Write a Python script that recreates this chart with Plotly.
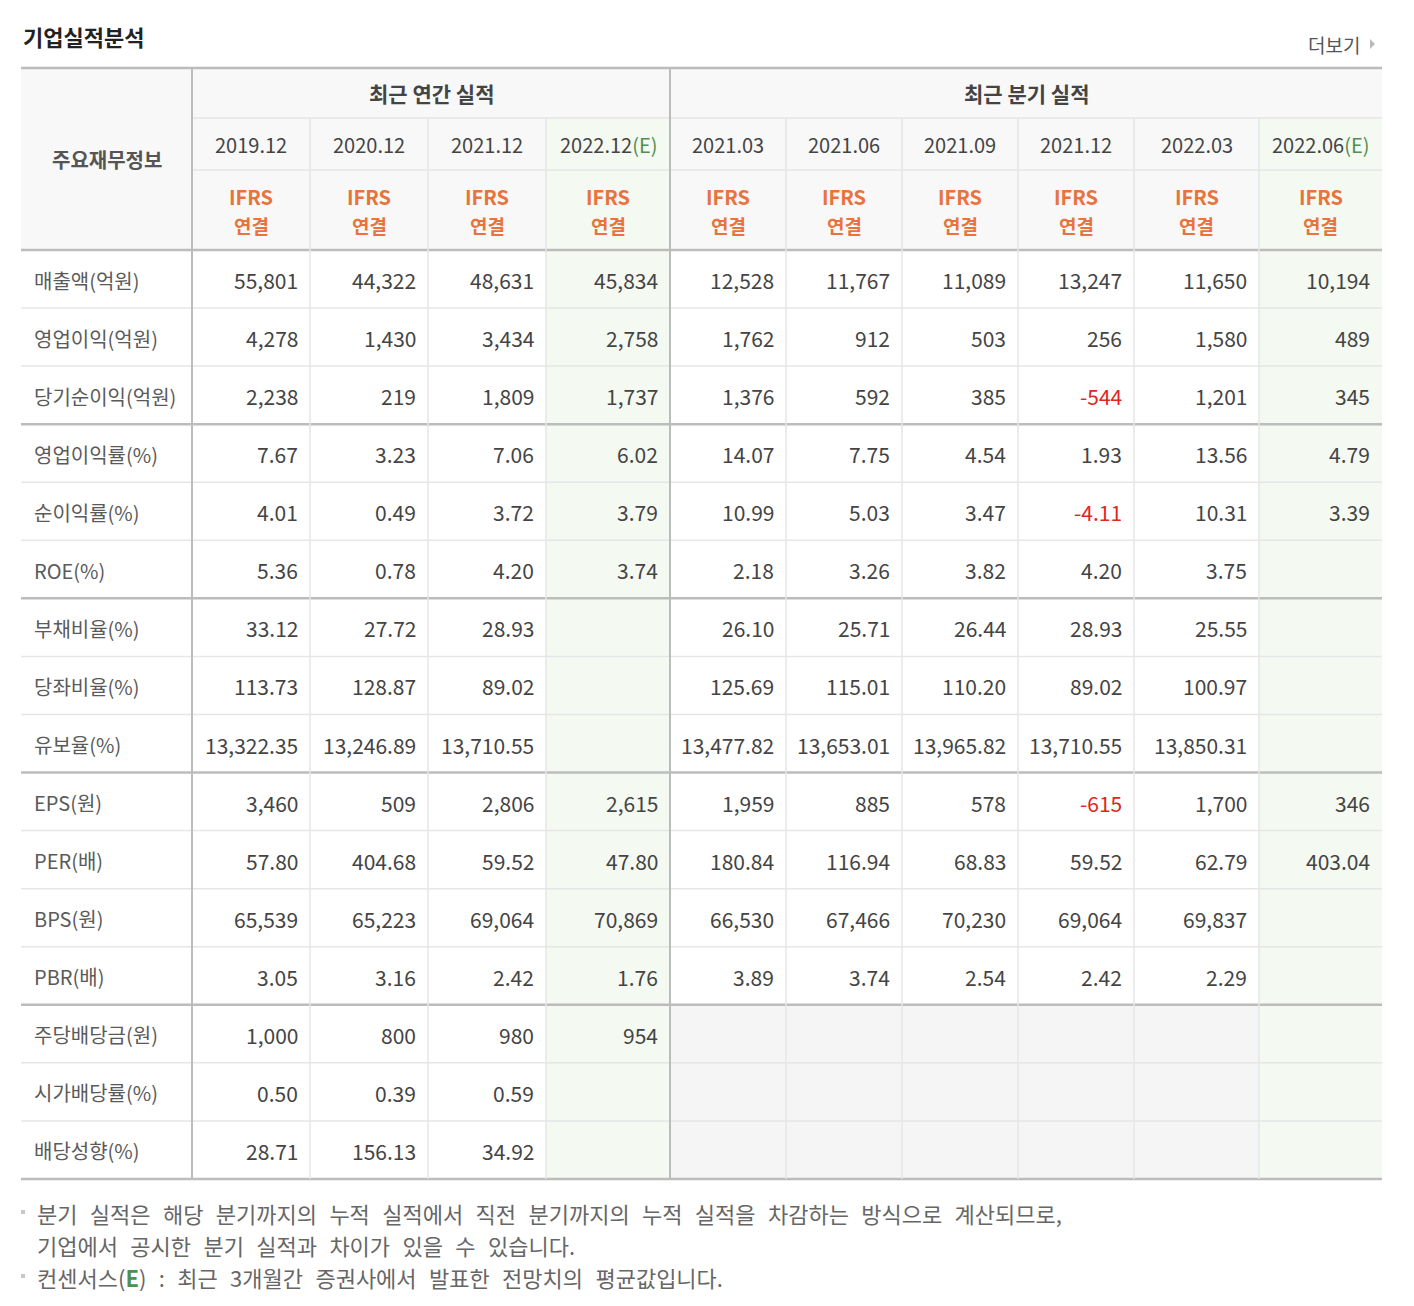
## 기업실적분석 table drawn with shapes and annotations on hidden axes

import plotly.graph_objects as go

# column headers
annual_periods = ["2019.12", "2020.12", "2021.12", "2022.12"]
quarter_periods = ["2021.03", "2021.06", "2021.09", "2021.12", "2022.03", "2022.06"]
periods = annual_periods + quarter_periods
is_estimate = [False, False, False, True, False, False, False, False, False, True]

# row labels and values (None = blank cell)
row_labels = [
    "매출액(억원)", "영업이익(억원)", "당기순이익(억원)",
    "영업이익률(%)", "순이익률(%)", "ROE(%)",
    "부채비율(%)", "당좌비율(%)", "유보율(%)",
    "EPS(원)", "PER(배)", "BPS(원)", "PBR(배)",
    "주당배당금(원)", "시가배당률(%)", "배당성향(%)",
]
row_decimals = [0, 0, 0, 2, 2, 2, 2, 2, 2, 0, 2, 0, 2, 0, 2, 2]

sales = [55801, 44322, 48631, 45834, 12528, 11767, 11089, 13247, 11650, 10194]
op_income = [4278, 1430, 3434, 2758, 1762, 912, 503, 256, 1580, 489]
net_income = [2238, 219, 1809, 1737, 1376, 592, 385, -544, 1201, 345]
op_margin = [7.67, 3.23, 7.06, 6.02, 14.07, 7.75, 4.54, 1.93, 13.56, 4.79]
net_margin = [4.01, 0.49, 3.72, 3.79, 10.99, 5.03, 3.47, -4.11, 10.31, 3.39]
roe = [5.36, 0.78, 4.20, 3.74, 2.18, 3.26, 3.82, 4.20, 3.75, None]
debt_ratio = [33.12, 27.72, 28.93, None, 26.10, 25.71, 26.44, 28.93, 25.55, None]
quick_ratio = [113.73, 128.87, 89.02, None, 125.69, 115.01, 110.20, 89.02, 100.97, None]
reserve_ratio = [13322.35, 13246.89, 13710.55, None, 13477.82, 13653.01, 13965.82, 13710.55, 13850.31, None]
eps = [3460, 509, 2806, 2615, 1959, 885, 578, -615, 1700, 346]
per = [57.80, 404.68, 59.52, 47.80, 180.84, 116.94, 68.83, 59.52, 62.79, 403.04]
bps = [65539, 65223, 69064, 70869, 66530, 67466, 70230, 69064, 69837, None]
pbr = [3.05, 3.16, 2.42, 1.76, 3.89, 3.74, 2.54, 2.42, 2.29, None]
dps = [1000, 800, 980, 954, None, None, None, None, None, None]
div_yield = [0.50, 0.39, 0.59, None, None, None, None, None, None, None]
payout = [28.71, 156.13, 34.92, None, None, None, None, None, None, None]

rows = [sales, op_income, net_income, op_margin, net_margin, roe,
        debt_ratio, quick_ratio, reserve_ratio, eps, per, bps, pbr,
        dps, div_yield, payout]

notes = [
    "분기 실적은 해당 분기까지의 누적 실적에서 직전 분기까지의 누적 실적을 차감하는 방식으로 계산되므로,",
    "기업에서 공시한 분기 실적과 차이가 있을 수 있습니다.",
    "컨센서스(E) : 최근 3개월간 증권사에서 발표한 전망치의 평균값입니다.",
]

# layout geometry (pixels, page coordinates)
W, H = 1414, 1306
PAGE_OFFSET = 8  # default body margin of the html page
LEFT, RIGHT = 21, 1382
col_edges = [192, 310, 428, 546, 670, 786, 902, 1018, 1134, 1259, 1382]
TOP = 68
HDR1, HDR2, HDR3 = 118, 170, 250
ROW_H = 58.06
group_breaks = [3, 6, 9, 13, 16]

FONT = "Noto Sans CJK KR"
TEXT = "#444444"
LABEL = "#5a5a5a"
ORANGE = "#e8733c"
GREEN = "#4f8f4f"
RED = "#e0261d"
BG_HEAD = "#f8f8f8"
BG_EST = "#f4f9f2"
BG_EMPTY = "#f5f5f5"
LINE_THIN = "#e6e6e6"
LINE_THICK = "#bcbcbc"
WIDE_SPACE = "\u2002\u200a"  # the notes are set with loose spacing

shapes = []
annotations = []


def rect(x0, y0, x1, y1, color):
    shapes.append(dict(type="rect", xref="x", yref="y", x0=x0, y0=y0, x1=x1, y1=y1,
                       fillcolor=color, line=dict(width=0), layer="below"))


def line(x0, y0, x1, y1, color, width):
    shapes.append(dict(type="line", xref="x", yref="y", x0=x0, y0=y0, x1=x1, y1=y1,
                       line=dict(color=color, width=width)))


def text(x, y, s, size, color, anchor="center", bold=False):
    if bold:
        s = "<b>" + s + "</b>"
    annotations.append(dict(x=x, y=y, xref="x", yref="y", text=s, showarrow=False,
                            xanchor=anchor, yanchor="middle",
                            font=dict(family=FONT, size=size, color=color)))


n_rows = len(rows)
bottom = HDR3 + ROW_H * n_rows

# backgrounds
rect(LEFT, TOP, RIGHT, HDR3, BG_HEAD)
for j, est in enumerate(is_estimate):
    x0, x1 = col_edges[j], col_edges[j + 1]
    if est:
        rect(x0, HDR1, x1, bottom, BG_EST)
for i, vals in enumerate(rows):
    y0 = HDR3 + ROW_H * i
    if i >= 13:
        for j in range(4, 9):
            rect(col_edges[j], y0, col_edges[j + 1], y0 + ROW_H, BG_EMPTY)

# header grid
line(LEFT, TOP, RIGHT, TOP, LINE_THICK, 2.5)
line(col_edges[0], HDR1, RIGHT, HDR1, LINE_THIN, 1.5)
line(col_edges[0], HDR2, RIGHT, HDR2, LINE_THIN, 1.5)
line(LEFT, HDR3, RIGHT, HDR3, LINE_THICK, 2.5)

# body grid
for i in range(1, n_rows + 1):
    y = HDR3 + ROW_H * i
    if i in group_breaks:
        line(LEFT, y, RIGHT, y, LINE_THICK, 2.5)
    else:
        line(LEFT, y, RIGHT, y, LINE_THIN, 1.5)

# vertical lines
for k, x in enumerate(col_edges[:-1]):
    if x in (192, 670):
        line(x, TOP, x, bottom, LINE_THICK, 2)
    else:
        line(x, HDR1, x, bottom, LINE_THIN, 1.5)

# header texts
text(21, 36, "기업실적분석", 22, "#222222", anchor="left", bold=True)
text(1362, 44, "더보기", 19, "#555555", anchor="right")
shapes.append(dict(type="path", xref="x", yref="y",
                   path="M 1370 39 L 1375 44 L 1370 49 Z",
                   fillcolor="#bbbbbb", line=dict(width=0)))
text((LEFT + col_edges[0]) / 2, (TOP + HDR3) / 2, "주요재무정보", 20, "#555555", bold=True)
text((col_edges[0] + col_edges[4]) / 2, (TOP + HDR1) / 2, "최근 연간 실적", 21, "#444444", bold=True)
text((col_edges[4] + col_edges[10]) / 2, (TOP + HDR1) / 2, "최근 분기 실적", 21, "#444444", bold=True)

for j, p in enumerate(periods):
    cx = (col_edges[j] + col_edges[j + 1]) / 2
    label = p
    if is_estimate[j]:
        label = p + "<span style='color:%s'>(E)</span>" % GREEN
    text(cx, (HDR1 + HDR2) / 2, label, 20, TEXT)
    text(cx, 196, "IFRS", 20, ORANGE, bold=True)
    text(cx, 225, "연결", 19, ORANGE, bold=True)

# body texts
for i, vals in enumerate(rows):
    cy = HDR3 + ROW_H * i + ROW_H / 2 + 1
    text(32, cy, row_labels[i], 20, LABEL, anchor="left")
    for j, v in enumerate(vals):
        if v is None:
            continue
        s = f"{v:,.{row_decimals[i]}f}"
        color = RED if v < 0 else TEXT
        text(col_edges[j + 1] - 10, cy, s, 21, color, anchor="right")

# footer notes
note_y = [1213, 1245, 1277]
for y in (note_y[0], note_y[2]):
    rect(21, y - 3, 25, y + 1, "#c8c8c8")
for k, note in enumerate(notes):
    s = note.replace(" ", WIDE_SPACE)
    s = s.replace("(E)", "(<span style='color:%s'><b>E</b></span>)" % GREEN)
    text(35, note_y[k], s, 22, "#666666", anchor="left")

fig = go.Figure()
fig.add_trace(go.Scatter(x=[PAGE_OFFSET, W], y=[PAGE_OFFSET, H], mode="markers",
                         marker=dict(opacity=0), hoverinfo="skip", showlegend=False))
fig.update_layout(
    width=W, height=H,
    margin=dict(l=0, r=0, t=0, b=0),
    paper_bgcolor="white", plot_bgcolor="white",
    xaxis=dict(range=[PAGE_OFFSET, W + PAGE_OFFSET], visible=False, fixedrange=True),
    yaxis=dict(range=[H + PAGE_OFFSET, PAGE_OFFSET], visible=False, fixedrange=True),
    shapes=shapes, annotations=annotations,
)

fig.write_html("out.html")
